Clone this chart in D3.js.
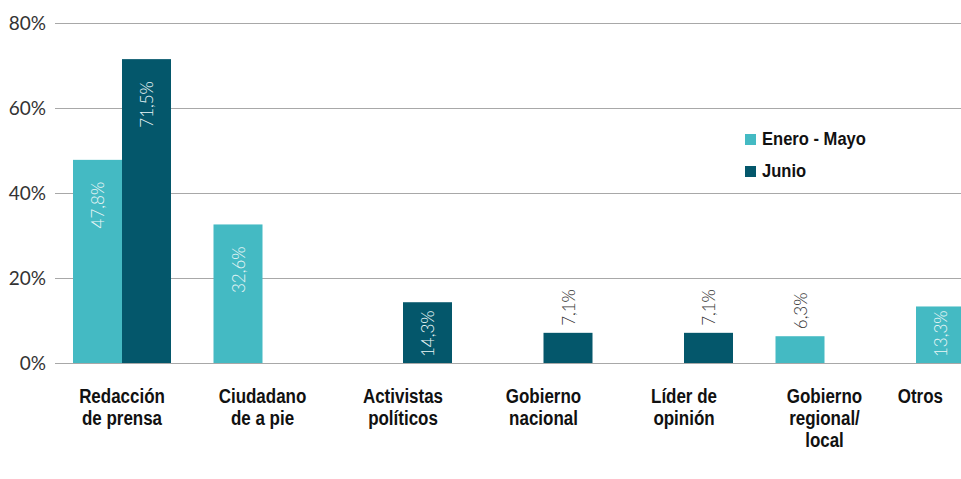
<!DOCTYPE html>
<html>
<head>
<meta charset="utf-8">
<script src="https://cdn.jsdelivr.net/npm/d3@7"></script>
<style>
  body { margin: 0; background: #fff; }
  .tick-label { font-family: Lato, "Open Sans", sans-serif; font-size: 19px; fill: #333; }
  .value { font-family: Lato, "Open Sans", sans-serif; font-weight: 300; font-size: 17px; }
  .cat, .legend text { font-family: "Liberation Sans Narrow", "Liberation Sans", Arial, sans-serif; font-weight: bold; fill: #111; }
  .cat { font-size: 19.5px; }
  .legend text { font-size: 18px; }
</style>
</head>
<body>
<div id="chart"></div>
<script>
const categories = [
  ["Redacción", "de prensa"],
  ["Ciudadano", "de a pie"],
  ["Activistas", "políticos"],
  ["Gobierno", "nacional"],
  ["Líder de", "opinión"],
  ["Gobierno", "regional/", "local"],
  ["Otros"]
];
const seriesNames = ["Enero - Mayo", "Junio"];
const eneroMayo = [47.8, 32.6, 0, 0, 0, 6.3, 13.3];
const junio = [71.5, 0, 14.3, 7.1, 7.1, 0, 0];
const yTicks = [0, 20, 40, 60, 80];
const colors = ["#44bac3", "#04576b"];

const width = 961, height = 479;
const squeeze = 0.87; // condensed look for the bold labels

const svg = d3.select("#chart").append("svg")
  .attr("width", width)
  .attr("height", height);

const catKeys = categories.map(c => c.join(" "));

// group step ~140.5px, group width 98px, first group starts at x=73
const x = d3.scaleBand()
  .domain(catKeys)
  .range([73, 1014])
  .paddingInner(0.3025)
  .paddingOuter(0);

const xSub = d3.scaleBand()
  .domain(seriesNames)
  .range([0, x.bandwidth()]);

const y = d3.scaleLinear()
  .domain([0, 80])
  .range([363, 23]);

// gridlines + tick labels
const grid = svg.append("g");
grid.selectAll("line")
  .data(yTicks)
  .enter().append("line")
  .attr("x1", 55)
  .attr("x2", width)
  .attr("y1", d => Math.round(y(d)) + 0.5)
  .attr("y2", d => Math.round(y(d)) + 0.5)
  .attr("stroke", "#a8a8a8")
  .attr("stroke-width", 1);

grid.selectAll("text")
  .data(yTicks)
  .enter().append("text")
  .attr("class", "tick-label")
  .attr("x", 46)
  .attr("y", d => y(d))
  .attr("dy", "0.35em")
  .attr("text-anchor", "end")
  .text(d => d + "%");

// flatten to bar records
const bars = [];
catKeys.forEach((c, i) => {
  [eneroMayo, junio].forEach((vals, s) => {
    if (vals[i] > 0) bars.push({ cat: c, series: seriesNames[s], s: s, value: vals[i] });
  });
});

const fmt = v => d3.format(".1f")(v).replace(".", ",") + "%";

svg.append("g").selectAll("rect")
  .data(bars)
  .enter().append("rect")
  .attr("x", d => x(d.cat) + xSub(d.series))
  .attr("y", d => y(d.value))
  .attr("width", xSub.bandwidth())
  .attr("height", d => y(0) - y(d.value))
  .attr("fill", d => colors[d.s]);

// value labels, rotated
const labels = svg.append("g").selectAll("text")
  .data(bars)
  .enter().append("text")
  .attr("class", "value")
  .text(d => fmt(d.value));

labels.each(function(d) {
  const t = d3.select(this);
  const len = this.getComputedTextLength();
  const cx = x(d.cat) + xSub(d.series) + xSub.bandwidth() / 2 + 1;
  const top = y(d.value);
  const barH = y(0) - top;
  let endY, fill;
  if (barH > len + 6) {
    endY = Math.min(top + 22, y(0) - 6 - len);
    fill = "#eaf6f7";
  } else {
    endY = top - 7 - len;
    fill = "#333";
  }
  t.attr("transform", `translate(${cx},${endY}) rotate(-90)`)
    .attr("text-anchor", "end")
    .attr("dy", "0.35em")
    .attr("fill", fill);
});

// category labels
const catG = svg.append("g").selectAll("text")
  .data(categories)
  .enter().append("text")
  .attr("class", "cat")
  .attr("text-anchor", "middle")
  .attr("transform", (d, i) => `translate(${x(catKeys[i]) + x.bandwidth() / 2},403) scale(${squeeze},1)`);

catG.selectAll("tspan")
  .data(d => d)
  .enter().append("tspan")
  .attr("x", 0)
  .attr("y", (d, i) => i * 22)
  .text(d => d);

// keep the last label inside the frame
catG.each(function(d, i) {
  const w = this.getBBox().width * squeeze;
  const cx = x(catKeys[i]) + x.bandwidth() / 2;
  const maxRight = width - 18;
  if (cx + w / 2 > maxRight) {
    d3.select(this).attr("transform", `translate(${maxRight - w / 2},403) scale(${squeeze},1)`);
  }
});

// legend
const legend = svg.append("g")
  .attr("class", "legend")
  .attr("transform", "translate(745,134)");

const item = legend.selectAll("g")
  .data(seriesNames)
  .enter().append("g")
  .attr("transform", (d, i) => `translate(0,${i * 32})`);

item.append("rect")
  .attr("width", 11)
  .attr("height", 11)
  .attr("fill", (d, i) => colors[i]);

item.append("text")
  .attr("transform", "translate(17,11) scale(0.92,1)")
  .text(d => d);
</script>
</body>
</html>
